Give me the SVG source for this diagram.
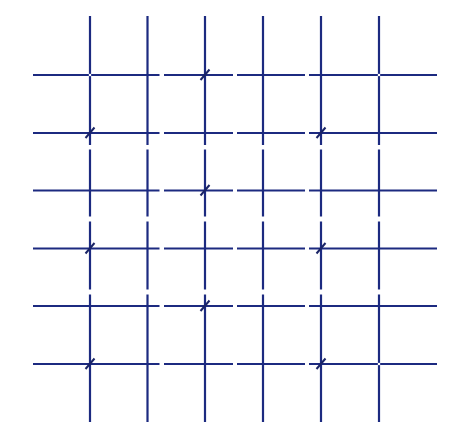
<svg xmlns="http://www.w3.org/2000/svg" width="458" height="434" viewBox="0 0 458 434">
<style>
.ln{stroke:#1c2a80;stroke-width:2.2;fill:none;stroke-linecap:butt}
.mk{stroke:#1a2466;stroke-width:2;fill:none}
.dot{fill:#ffffff}
</style>
<rect width="458" height="434" fill="#ffffff"/>
<g id="horizontal-lines" class="ln">
<path d="M33 75H159.5M164 75H233M237 75H305M309 75H437"/>
<path d="M33 133H159.5M164 133H233M237 133H305M309 133H437"/>
<path d="M33 190.5H159.5M164 190.5H233M237 190.5H305M309 190.5H437"/>
<path d="M33 248.5H159.5M164 248.5H233M237 248.5H305M309 248.5H437"/>
<path d="M33 306H159.5M164 306H233M237 306H305M309 306H437"/>
<path d="M33 364H159.5M164 364H233M237 364H305M309 364H437"/>
</g>
<g id="vertical-lines" class="ln">
<path d="M90 16V145M90 149.5V216.5M90 221.5V289.5M90 294.5V422"/>
<path d="M147.5 16V145M147.5 149.5V216.5M147.5 221.5V289.5M147.5 294.5V422"/>
<path d="M205 16V145M205 149.5V216.5M205 221.5V289.5M205 294.5V422"/>
<path d="M263 16V145M263 149.5V216.5M263 221.5V289.5M263 294.5V422"/>
<path d="M321 16V145M321 149.5V216.5M321 221.5V289.5M321 294.5V422"/>
<path d="M379 16V145M379 149.5V216.5M379 221.5V289.5M379 294.5V422"/>
</g>
<g id="crossing-gaps">
<circle class="dot" cx="90" cy="75" r="1.3"/>
<circle class="dot" cx="379" cy="75" r="1.3"/>
<circle class="dot" cx="379" cy="364" r="1.3"/>
</g>
<g id="marks" class="mk">
<path d="M200.5 80L209.5 69.5"/>
<path d="M85.5 138L94.5 127.5"/>
<path d="M316.5 138L325.5 127.5"/>
<path d="M200.5 195.5L209.5 185"/>
<path d="M85.5 253.5L94.5 243"/>
<path d="M316.5 253.5L325.5 243"/>
<path d="M200.5 311L209.5 300.5"/>
<path d="M85.5 369L94.5 358.5"/>
<path d="M316.5 369L325.5 358.5"/>
</g>
</svg>
